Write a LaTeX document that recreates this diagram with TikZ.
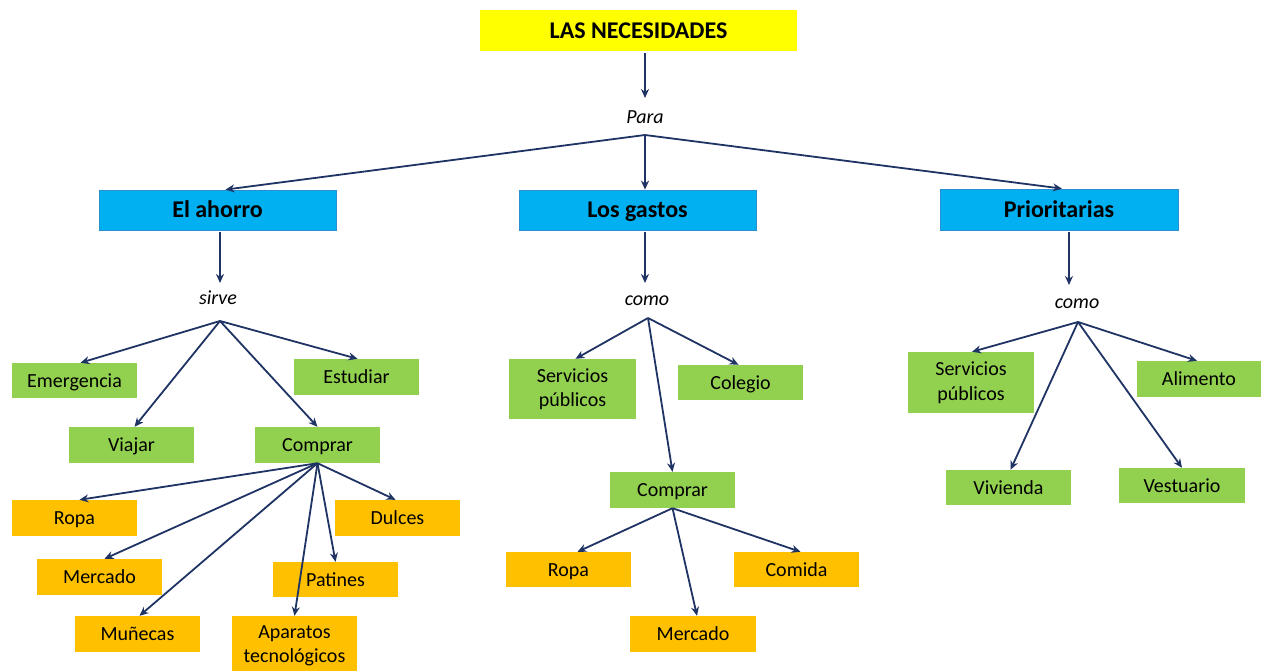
\documentclass[tikz,border=0pt]{standalone}
\usepackage{fontspec}
\setmainfont{Carlito}
\usetikzlibrary{arrows.meta}
\definecolor{cyel}{HTML}{FFFF00}
\definecolor{cblue}{HTML}{00B0F0}
\definecolor{cbluedk}{HTML}{2A8FD0}
\definecolor{cgreen}{HTML}{92D050}
\definecolor{corange}{HTML}{FFC000}
\definecolor{cline}{HTML}{1F3464}
\tikzset{
  basebox/.style={inner sep=0pt, anchor=center, align=center, font=\fontsize{20}{24.5}\selectfont, text=black, text height=17pt, text depth=4pt},
  multi/.style={text height=, text depth=},
  gbox/.style={basebox, fill=cgreen, minimum width=125pt, minimum height=36pt},
  obox/.style={basebox, fill=corange, minimum width=125pt, minimum height=36pt},
  hbox/.style={basebox, fill=cblue, draw=cbluedk, line width=0.8pt, minimum width=237pt, minimum height=40pt, font=\bfseries\fontsize{24}{28}\selectfont, text height=19.5pt, text depth=4pt},
  topbox/.style={basebox, fill=cyel, minimum width=317pt, minimum height=41pt, font=\bfseries\fontsize{24}{28}\selectfont, text height=19.5pt, text depth=4pt},
  lbl/.style={inner sep=0pt, anchor=center, font=\itshape\fontsize{20}{24}\selectfont},
  conn/.style={draw=cline, line width=1.8pt, -{Stealth[length=9pt,width=8pt]}},
}
\begin{document}
\begin{tikzpicture}[x=1pt,y=-1pt]
\clip (0,0) rectangle (1261,671);
\fill[white] (0,0) rectangle (1261,671);
% top
\node[topbox] (nec) at (638.5,30.5) {LAS NECESIDADES};
\node[lbl] (para) at (645,117) {Para};
\coordinate (paraIn) at (645,98);
\coordinate (paraOut) at (645,135);
\node[hbox] (ahorro) at (217.5,210) {El ahorro};
\node[hbox] (gastos) at (637.5,210) {Los gastos};
\node[hbox, minimum width=238pt, minimum height=41pt] (prior) at (1059,209.5) {Prioritarias};
% ahorro branch
\node[lbl] (sirve) at (218,298) {sirve};
\coordinate (sirveIn) at (220,283);
\coordinate (sirveOut) at (220,321);
\node[gbox, minimum height=35pt] (emerg) at (74.5,380.5) {Emergencia};
\node[gbox] (estud) at (356.5,377) {Estudiar};
\node[gbox] (viajar) at (131.5,445) {Viajar};
\node[gbox] (comp1) at (317.5,445) {Comprar};
\node[obox] (ropa1) at (74.5,518) {Ropa};
\node[obox] (merc1) at (99.5,577) {Mercado};
\node[obox] (munec) at (137.5,634) {Muñecas};
\node[obox, multi, minimum height=60pt] (apar) at (294.5,646) {Aparatos\\tecnológicos};
\node[obox, minimum height=35pt] (patin) at (335.5,579.5) {Patines};
\node[obox] (dulce) at (397.5,518) {Dulces};
% gastos branch
\node[lbl] (como1) at (647,301) {como};
\coordinate (como1In) at (645,283);
\coordinate (como1Out) at (648,318);
\node[gbox, multi, minimum width=127pt, minimum height=60pt] (serv1) at (572.5,389) {Servicios\\públicos};
\node[gbox, minimum height=35pt] (coleg) at (740.5,382.5) {Colegio};
\node[gbox] (comp2) at (672.5,490) {Comprar};
\node[obox, minimum height=35pt] (ropa2) at (568.5,569.5) {Ropa};
\node[obox, minimum height=35pt] (comida) at (796.5,569.5) {Comida};
\node[obox, minimum width=126pt] (merc2) at (693,634) {Mercado};
% prioritarias branch
\node[lbl] (como2) at (1077,304) {como};
\coordinate (como2In) at (1069,285);
\coordinate (como2Out) at (1078,322);
\node[gbox, multi, minimum width=126pt, minimum height=61pt] (serv2) at (971,382.5) {Servicios\\públicos};
\node[gbox, minimum width=124pt] (alim) at (1199,379) {Alimento};
\node[gbox, minimum height=35pt] (viv) at (1008.5,487.5) {Vivienda};
\node[gbox, minimum width=126pt, minimum height=35pt] (vest) at (1182,485.5) {Vestuario};
% connectors
\draw[conn] ([yshift=-2pt]nec.south -| paraIn) -- (paraIn);
\draw[conn] (paraOut) -- ([xshift=8pt]ahorro.north);
\draw[conn] (paraOut) -- (gastos.north -| paraOut);
\draw[conn] (paraOut) -- ([xshift=3pt]prior.north);
\draw[conn] ([yshift=-2pt]ahorro.south -| sirveIn) -- (sirveIn);
\draw[conn] ([yshift=-2pt]gastos.south -| como1In) -- (como1In);
\draw[conn] ([yshift=-2pt]prior.south -| como2In) -- (como2In);
\foreach \t/\dx in {emerg/6, estud/1, viajar/3, comp1/0}
  \draw[conn] (sirveOut) -- ([xshift=\dx pt]\t.north);
\foreach \t/\dx in {ropa1/5, merc1/5, munec/2, apar/0, patin/0, dulce/-2}
  \draw[conn] (comp1.south) -- ([xshift=\dx pt]\t.north);
\foreach \t/\dx in {serv1/3, coleg/-2, comp2/0}
  \draw[conn] (como1Out) -- ([xshift=\dx pt]\t.north);
\foreach \t/\dx in {ropa2/9, comida/4, merc2/4}
  \draw[conn] (comp2.south) -- ([xshift=\dx pt]\t.north);
\foreach \t/\dx in {serv2/1, alim/-2, viv/2, vest/0}
  \draw[conn] (como2Out) -- ([xshift=\dx pt]\t.north);
\end{tikzpicture}
\end{document}
